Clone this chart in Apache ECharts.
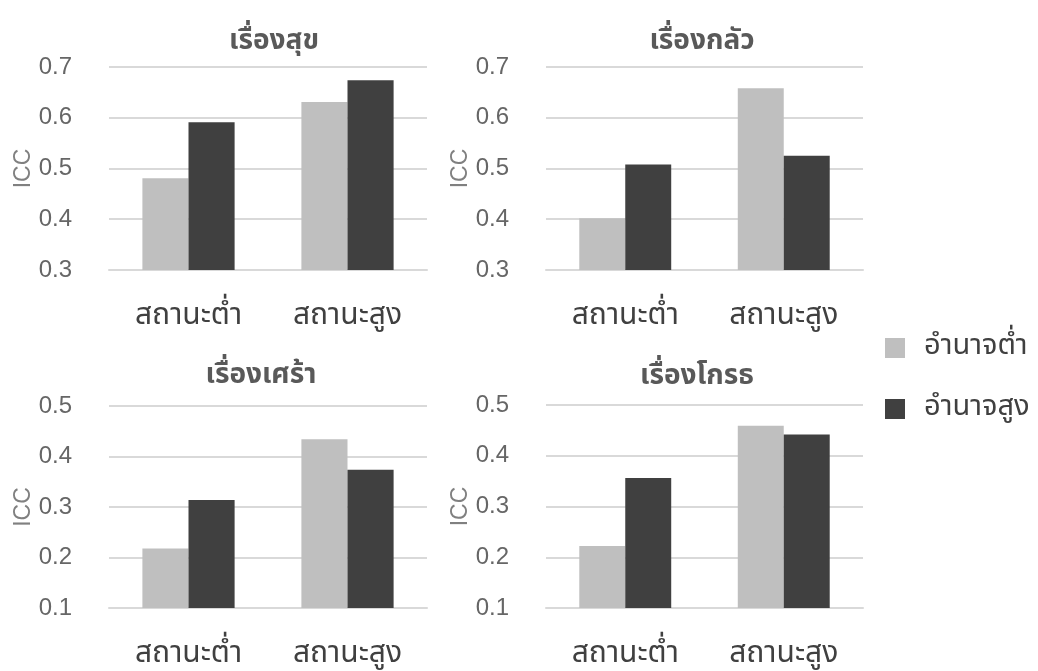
<!DOCTYPE html>
<html><head><meta charset="utf-8">
<script src="https://cdn.jsdelivr.net/npm/echarts@6/dist/echarts.min.js"></script>
<style>html,body{margin:0;padding:0;background:#fff}#c{width:1038px;height:671px}</style>
</head><body><div id="c"></div>
<script>
const categories = ['สถานะต่ำ', 'สถานะสูง'];
const seriesNames = ['อำนาจต่ำ', 'อำนาจสูง'];
const panelTitles = ['เรื่องสุข', 'เรื่องกลัว', 'เรื่องเศร้า', 'เรื่องโกรธ'];
const happyLow = [0.481, 0.631];
const happyHigh = [0.591, 0.674];
const fearLow = [0.402, 0.658];
const fearHigh = [0.508, 0.525];
const sadLow = [0.218, 0.434];
const sadHigh = [0.314, 0.374];
const angerLow = [0.222, 0.459];
const angerHigh = [0.356, 0.442];
const yMins = [0.3, 0.3, 0.1, 0.1];
const yMaxs = [0.7, 0.7, 0.5, 0.5];

const FONT = "'Noto Sans Thai','Liberation Sans','Noto Sans',sans-serif";
const grids = [
  {left:109, top:67, width:318, height:203},
  {left:546, top:67, width:317, height:203},
  {left:109, top:406, width:318, height:202},
  {left:546, top:405, width:317, height:203}
];
const titlePos = [[269,24],[697,24],[256,358],[692,359]];
const lowData = [happyLow, fearLow, sadLow, angerLow];
const highData = [happyHigh, fearHigh, sadHigh, angerHigh];

const option = {
  animation:false,
  textStyle:{fontFamily:FONT},
  title: panelTitles.map((t,i)=>({text:t,left:titlePos[i][0],top:titlePos[i][1],textAlign:'center',
    textStyle:{fontFamily:FONT,fontSize:28,fontWeight:'bold',color:'#595959'}})),
  legend:{orient:'vertical',left:880,top:328,itemWidth:20,itemHeight:20,itemGap:31,icon:'rect',
    data:seriesNames,textStyle:{fontFamily:FONT,fontSize:29,color:'#404040',lineHeight:24,padding:[6,0,0,14]}},
  grid: grids.map(g=>Object.assign({containLabel:false},g)),
  xAxis: grids.map((g,i)=>({type:'category',gridIndex:i,data:categories,
    axisLine:{show:true,lineStyle:{color:'#d9d9d9',width:2}},axisTick:{show:false},
    axisLabel:{fontFamily:FONT,fontSize:30,color:'#404040',margin:33}})),
  yAxis: grids.map((g,i)=>({type:'value',gridIndex:i,min:yMins[i],max:yMaxs[i],interval:0.1,
    name:'ICC',nameLocation:'middle',nameGap:72,nameRotate:90,
    nameTextStyle:{fontFamily:'Liberation Sans',fontSize:23,color:'#808080'},
    axisLine:{show:false},axisTick:{show:false},
    axisLabel:{fontFamily:'Liberation Sans',fontSize:24,color:'#666666',margin:37,formatter:v=>v.toFixed(1)},
    splitLine:{lineStyle:{color:'#d9d9d9',width:2}}})),
  series: []
};
for(let i=0;i<4;i++){
  option.series.push({type:'bar',name:seriesNames[0],xAxisIndex:i,yAxisIndex:i,data:lowData[i],
    itemStyle:{color:'#bfbfbf'},barGap:'0%',barCategoryGap:'42%'});
  option.series.push({type:'bar',name:seriesNames[1],xAxisIndex:i,yAxisIndex:i,data:highData[i],
    itemStyle:{color:'#404040'},barGap:'0%',barCategoryGap:'42%'});
}
echarts.init(document.getElementById('c')).setOption(option);
</script></body></html>
